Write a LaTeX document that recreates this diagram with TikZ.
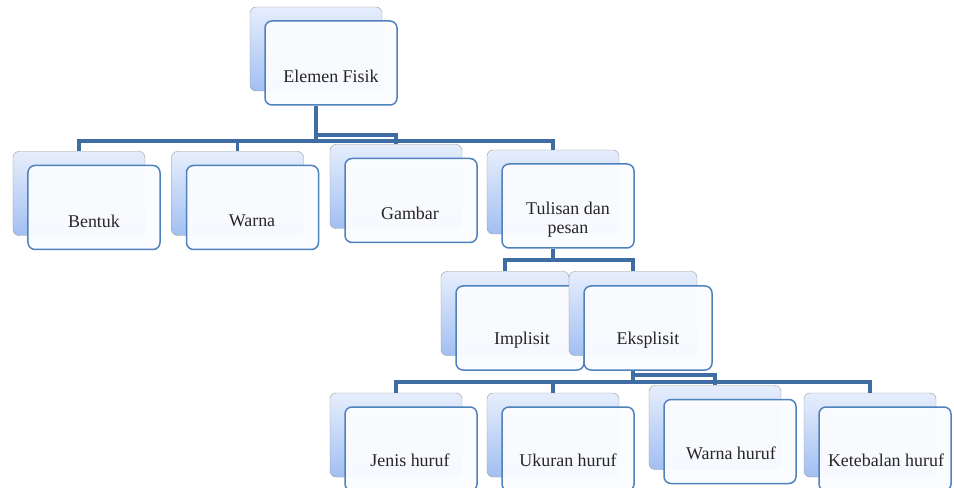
\documentclass[tikz,border=0pt]{standalone}
\usepackage{fontspec}
\setmainfont{Liberation Serif}
\definecolor{linkblue}{HTML}{3E6CA3}
\definecolor{frameblue}{HTML}{4F81BD}
\definecolor{backtop}{HTML}{E6EEFC}
\definecolor{backbot}{HTML}{A2BFF2}
\definecolor{frontfill}{HTML}{FBFCFF}

\begin{document}
\begin{tikzpicture}[x=1bp, y=-1bp,
    back/.style={draw=gray!80, rounded corners=6bp, top color=backtop, bottom color=backbot,
      minimum width=132bp, minimum height=84bp, inner sep=0pt},
    front/.style={draw=frameblue, line width=1.5bp, rounded corners=7bp, fill=frontfill,
      fill opacity=0.96, minimum width=132bp, minimum height=84bp, inner sep=0pt},
    word/.style={font=\fontsize{18}{19}\selectfont, text=black!85, align=center, inner sep=0pt},
    link/.style={draw=linkblue, line width=3.5bp}]
        \useasboundingbox (0,0) rectangle (954,488);

        % top
        \node[back] (elemenB) at (316,49) {};
        \node[front] (elemen) at (331,63) {};
        \node[word] (elemenT) at (331,76) {Elemen Fisik};

        % level 1
        \node[back] (bentukB) at (79,193.5) {};
        \node[front] (bentuk) at (94,207.5) {};
        \node[word] (bentukT) at (94,221) {Bentuk};
        \node[back] (warnaB) at (237.5,193.5) {};
        \node[front] (warna) at (252.5,207.5) {};
        \node[word] (warnaT) at (252,221) {Warna};
        \node[back] (gambarB) at (396,186.5) {};
        \node[front] (gambar) at (411,200.5) {};
        \node[word] (gambarT) at (410,213) {Gambar};
        \node[back] (tulisanB) at (553,192) {};
        \node[front] (tulisan) at (568,206) {};
        \node[word] (tulisanT) at (568,220) {Tulisan dan\\pesan};

        % level 2
        \node[back, minimum width=128bp] (implisitB) at (505,313.5) {};
        \node[front, minimum width=128bp] (implisit) at (520,328) {};
        \node[word] (implisitT) at (522,340) {Implisit};
        \node[back, minimum width=128bp] (eksplisitB) at (633,313.5) {};
        \node[front, minimum width=128bp] (eksplisit) at (648,328) {};
        \node[word] (eksplisitT) at (648,340) {Eksplisit};

        % level 3
        \node[back] (jenisB) at (396,435) {};
        \node[front] (jenis) at (411,449) {};
        \node[word] (jenisT) at (410,460) {Jenis huruf};
        \node[back] (ukuranB) at (553,435) {};
        \node[front] (ukuran) at (568,449) {};
        \node[word] (ukuranT) at (568,460) {Ukuran huruf};
        \node[back] (warnahB) at (715,427.5) {};
        \node[front] (warnah) at (730,441.5) {};
        \node[word] (warnahT) at (731,453) {Warna huruf};
        \node[back] (tebalB) at (870,435) {};
        \node[front] (tebal) at (885,449) {};
        \node[word] (tebalT) at (886,460) {Ketebalan huruf};

        % bars
        \coordinate (barA) at (0,141);
        \coordinate (barG) at (0,135);
        \coordinate (barB) at (0,260);
        \coordinate (barC) at (0,382);
        \coordinate (barW) at (0,375);

        \draw[link] (elemenB |- elemen.south) -- (elemenB |- barA) -| (bentukB.north);
        \draw[link] (elemenB |- elemen.south) -- (elemenB |- barA) -| (warnaB.north);
        \draw[link] (elemenB |- elemen.south) -- (elemenB |- barG) -| (gambarB.north);
        \draw[link] (elemenB |- elemen.south) -- (elemenB |- barA) -| (tulisanB.north);
        \draw[link] (tulisanB |- tulisan.south) -- (tulisanB |- barB) -| (implisitB.north);
        \draw[link] (tulisanB |- tulisan.south) -- (tulisanB |- barB) -| (eksplisitB.north);
        \draw[link] (eksplisitB |- eksplisit.south) -- (eksplisitB |- barC) -| (jenisB.north);
        \draw[link] (eksplisitB |- eksplisit.south) -- (eksplisitB |- barC) -| (ukuranB.north);
        \draw[link] (eksplisitB |- eksplisit.south) -- (eksplisitB |- barW) -| (warnahB.north);
        \draw[link] (eksplisitB |- eksplisit.south) -- (eksplisitB |- barC) -| (tebalB.north);

      \end{tikzpicture}
\end{document}
